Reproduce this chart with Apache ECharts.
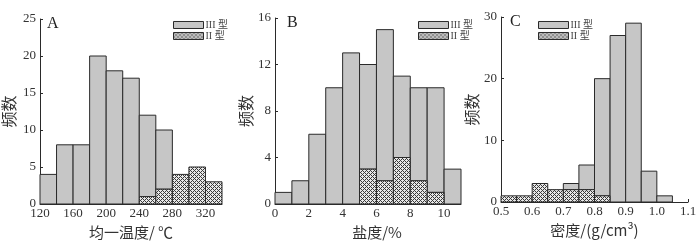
<!DOCTYPE html>
<html><head><meta charset="utf-8">
<script src="https://cdn.jsdelivr.net/npm/echarts@6/dist/echarts.min.js"></script>
<style>html,body{margin:0;padding:0;background:#fff}#c{width:700px;height:245px}</style>
</head><body><div id="c"></div>
<script>
// Panel A: homogenization temperature
const aBins = [120,140,160,180,200,220,240,260,280,300,320];
const aWidth = 20;
const aIII = [4,8,8,20,18,17,11,8,0,0,0];
const aII  = [0,0,0,0,0,0,1,2,4,5,3];
// Panel B: salinity
const bBins = [0,1,2,3,4,5,6,7,8,9,10];
const bWidth = 1;
const bIII = [1,2,6,10,13,9,13,7,8,9,3];
const bII  = [0,0,0,0,0,3,2,4,2,1,0];
// Panel C: density
const cBins = [0.5,0.55,0.6,0.65,0.7,0.75,0.8,0.85,0.9,0.95,1.0];
const cWidth = 0.05;
const cIII = [0,0,0,0,1,4,19,27,29,5,1];
const cII  = [1,1,3,2,2,2,1,0,0,0,0];

const nameIII = 'III 型', nameII = 'II 型';

function makePattern(){
  const cv = document.createElement('canvas');
  cv.width = 4; cv.height = 4;
  const ctx = cv.getContext('2d');
  ctx.fillStyle = '#e8e8e8'; ctx.fillRect(0,0,4,4);
  ctx.fillStyle = '#3a3a3a';
  for(let x=0;x<4;x++) for(let y=0;y<4;y++){
    if((x+y)%4===0 || (x-y+4)%4===0) ctx.fillRect(x,y,1,1);
  }
  return {image: cv, repeat: 'repeat'};
}
const hatch = makePattern();
const gray = '#c6c6c6';
const edge = '#2a2a2a';

function makeRender(fill){
  return function(params, api){
    const x0=api.value(0), x1=api.value(1), b=api.value(2), t=api.value(3);
    if(!(t>b)) return;
    const p0=api.coord([x0,b]), p1=api.coord([x1,t]);
    return {type:'rect',
      shape:{x:p0[0], y:p1[1], width:p1[0]-p0[0], height:p0[1]-p1[1]},
      style:{fill:fill, stroke:edge, lineWidth:1}};
  };
}
function buildII(bins,w,ii){ return bins.map((s,i)=>[s, s+w, 0, ii[i]]); }
function buildIII(bins,w,iii,ii){ return bins.map((s,i)=>[s, s+w, ii[i], ii[i]+iii[i]]); }

const grids = [
  {left:36, top:19, width:186, height:185},
  {left:275, top:18, width:186, height:186},
  {left:501, top:17, width:187, height:185}
];
const numFont = {fontFamily:'Liberation Serif', fontSize:13, color:'#333'};
const cjkFont = {fontFamily:'Noto Sans CJK SC', fontSize:15, color:'#333'};

function xAxis(idx,min,max,interval,name,showMax,fmt,pad){
  return {type:'value', gridIndex:idx, min:min, max:max, interval:interval,
    name:name, nameLocation:'middle', nameGap:19,
    nameTextStyle:Object.assign({}, cjkFont, {padding:pad||0}),
    axisLine:{show:true, lineStyle:{color:edge, width:1}},
    axisTick:{show:true, inside:true, length:3, lineStyle:{color:edge}},
    axisLabel:Object.assign({}, numFont, {margin:3, showMaxLabel:showMax, formatter:fmt}),
    splitLine:{show:false}};
}
function yAxis(idx,max,interval,gap){
  return {type:'value', gridIndex:idx, min:0, max:max, interval:interval,
    name:'频数', nameLocation:'middle', nameGap:gap, nameRotate:90,
    nameTextStyle:Object.assign({}, cjkFont, {fontSize:16}),
    axisLine:{show:true, lineStyle:{color:edge, width:1}},
    axisTick:{show:true, inside:true, length:3, lineStyle:{color:edge}},
    axisLabel:Object.assign({}, numFont, {margin:4}),
    splitLine:{show:false}};
}
function legend(left,top){
  return {orient:'vertical', left:left, top:top, itemWidth:30, itemHeight:7, itemGap:1,
    selectedMode:false, icon:'rect',
    textStyle:{fontFamily:'Liberation Serif, Noto Sans CJK SC', fontSize:10, color:'#444', padding:[0,0,0,-3]},
    data:[{name:nameIII, itemStyle:{color:gray, borderColor:edge, borderWidth:1}},
          {name:nameII, itemStyle:{color:hatch, borderColor:edge, borderWidth:1}}]};
}
function series(idx,bins,w,iii,ii){
  return [
    {type:'custom', name:nameIII, xAxisIndex:idx, yAxisIndex:idx,
     renderItem:makeRender(gray), itemStyle:{color:gray, borderColor:edge},
     encode:{x:[0,1], y:[2,3]}, data:buildIII(bins,w,iii,ii)},
    {type:'custom', name:nameII, xAxisIndex:idx, yAxisIndex:idx,
     renderItem:makeRender(hatch), itemStyle:{color:hatch, borderColor:edge},
     encode:{x:[0,1], y:[2,3]}, data:buildII(bins,w,ii)}
  ];
}

const panelLabels = [
  {type:'text', left:47, top:16, style:{text:'A', font:'16px "Liberation Serif"', fill:'#222'}},
  {type:'text', left:287, top:15, style:{text:'B', font:'16px "Liberation Serif"', fill:'#222'}},
  {type:'text', left:510, top:14, style:{text:'C', font:'16px "Liberation Serif"', fill:'#222'}}
];

const chart = echarts.init(document.getElementById('c'), null, {renderer:'canvas'});
chart.setOption({
  animation:false,
  backgroundColor:'#fff',
  grid:grids,
  graphic:panelLabels,
  legend:[legend(168,15), legend(413,15), legend(533,15)],
  xAxis:[
    xAxis(0,120,340,40,'均一温度/ ℃',false,v=>String(v)),
    xAxis(1,0,11,2,'盐度/%',false,v=>String(v),[0,0,0,18]),
    xAxis(2,0.5,1.1,0.1,'密度/(g/cm³)',true,v=>v.toFixed(1))
  ],
  yAxis:[yAxis(0,25,5,23), yAxis(1,16,4,18), yAxis(2,30,10,18)],
  series:[].concat(series(0,aBins,aWidth,aIII,aII), series(1,bBins,bWidth,bIII,bII), series(2,cBins,cWidth,cIII,cII))
});
</script></body></html>
